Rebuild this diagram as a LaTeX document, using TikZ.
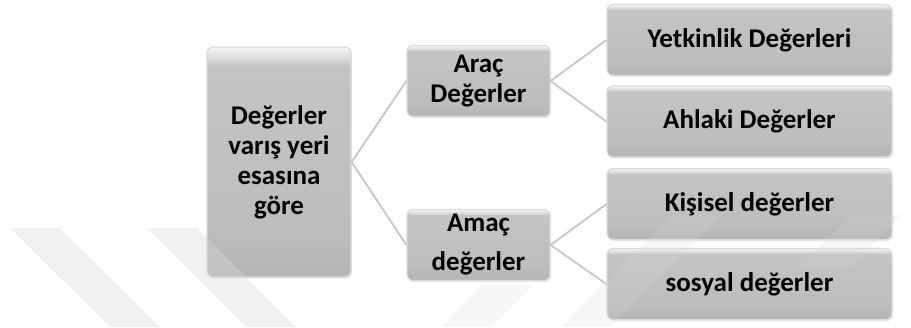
\documentclass[tikz,border=0pt]{standalone}
\usepackage{fontspec}
\setmainfont{Carlito}
\usetikzlibrary{shadows}

\pgfdeclareverticalshading{bevel}{100bp}{color(0bp)=(black!29); color(25bp)=(black!29); color(35bp)=(black!26); color(71bp)=(black!23); color(73bp)=(black!12); color(75bp)=(black!4); color(100bp)=(black!4)}

\begin{document}
\begin{tikzpicture}[x=0.5pt,y=-0.5pt,
box/.style={draw=black!14,line width=0.6pt,rounded corners=3pt,shading=bevel,drop shadow={shadow xshift=0.6pt,shadow yshift=-0.8pt,opacity=0.18},font=\bfseries\fontsize{13.5}{15}\selectfont,align=center,inner sep=0},
rootbox/.style={box,minimum width=72pt,minimum height=115pt},
midbox/.style={box,minimum width=71.5pt,minimum height=35.5pt},
leafbox/.style={box,minimum width=142.5pt,minimum height=35.5pt},
link/.style={draw=black!22,line width=0.9pt},
wm/.style={fill=black!15,opacity=0.36},
wmlight/.style={fill=black!15,opacity=0.2}]
	\def\xa{99.75pt}
	\def\xb{135.5pt}
	\useasboundingbox (0,0) rectangle (911,327);

	\node[rootbox] at (279,162) (r) {Değerler\\varış yeri\\esasına\\göre};
	\node[midbox] at ([xshift=\xa,yshift=40.5pt]r) (m1) {Araç\\Değerler};
	\node[midbox] at ([xshift=\xa,yshift=-41.5pt]r) (m2) {Amaç\\[4.5pt]değerler};
	\node[leafbox] at ([xshift=\xb,yshift=20.5pt]m1) (l1) {Yetkinlik Değerleri};
	\node[leafbox] at ([xshift=\xb,yshift=-20.25pt]m1) (l2) {Ahlaki Değerler};
	\node[leafbox] at ([xshift=\xb,yshift=20.5pt]m2) (l3) {Kişisel değerler};
	\node[leafbox] at ([xshift=\xb,yshift=-19.5pt]m2) (l4) {sosyal değerler};

	\foreach \a/\b in {r/m1,r/m2,m1/l1,m1/l2,m2/l3,m2/l4} {
		\draw[link] (\a.east) -- (\b.west);
	}

	%watermark
	\fill[wm] (10,228) -- (60,228) -- (160,327) -- (110,327) -- cycle;
	\fill[wm] (147,228) -- (197,228) -- (296,327) -- (246,327) -- cycle;
	\fill[wmlight] (440,327) -- (490,327) -- (532,285) -- (482,285) -- cycle;
	\fill[wmlight] (560,327) -- (610,327) -- (722,215) -- (672,215) -- cycle;
	\fill[wmlight] (797,270) -- (847,270) -- (902,215) -- (852,215) -- cycle;
\end{tikzpicture}
\end{document}
